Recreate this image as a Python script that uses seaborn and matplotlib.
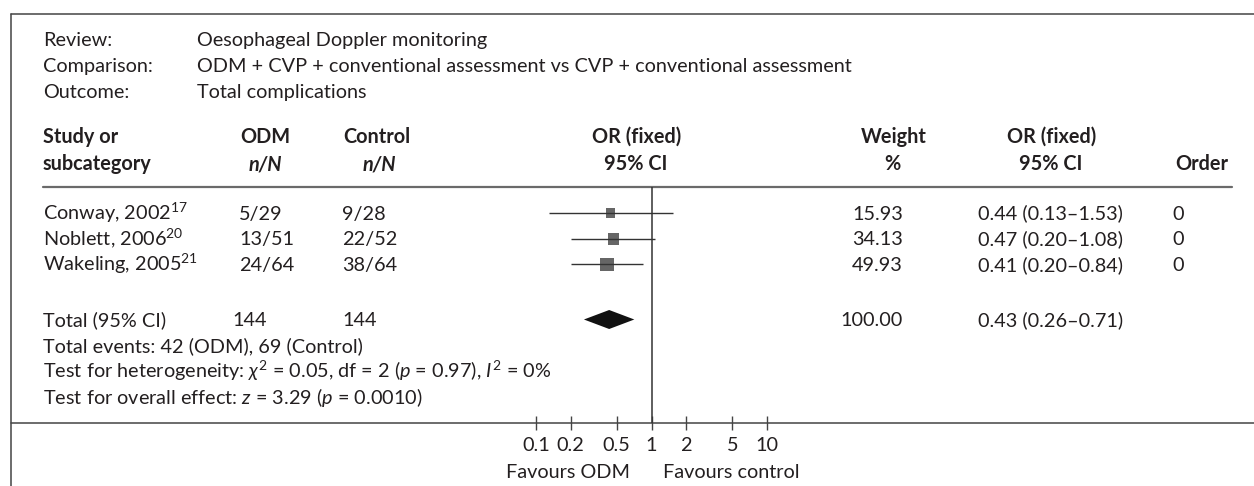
import numpy as np
import pandas as pd
import matplotlib
matplotlib.use('Agg')
import matplotlib.pyplot as plt
from matplotlib.ticker import NullLocator
import seaborn as sns

# Data
studies = ['Conway, 2002', 'Noblett, 2006', 'Wakeling, 2005']
refs = ['17', '20', '21']
odm_nN = ['5/29', '13/51', '24/64']
ctl_nN = ['9/28', '22/52', '38/64']
or_est = [0.44, 0.47, 0.41]
or_lo = [0.13, 0.20, 0.20]
or_hi = [1.53, 1.08, 0.84]
weights = [15.93, 34.13, 49.93]
order = ['0', '0', '0']

total_n_odm, total_n_ctl = 144, 144
total_weight = 100.00
total_est, total_lo, total_hi = 0.43, 0.26, 0.71
events_odm, events_ctl = 42, 69
chi2, df_het, p_het, i2 = 0.05, 2, 0.97, 0
z_val, p_z = 3.29, 0.0010

tick_vals = [0.1, 0.2, 0.5, 1, 2, 5, 10]
tick_labels = ['0.1', '0.2', '0.5', '1', '2', '5', '10']

# Style
W, H = 1254, 486
INK = '#231f20'
EDGE = '#444444'
LINE = '#333333'
FS = 14.3

sns.set_theme(style='white')
plt.rcParams['font.family'] = ['Lato', 'DejaVu Sans']
plt.rcParams['mathtext.fontset'] = 'custom'
plt.rcParams['mathtext.rm'] = 'Lato'
plt.rcParams['mathtext.it'] = 'Lato:italic'
plt.rcParams['mathtext.bf'] = 'Lato:bold'

fig = plt.figure(figsize=(W / 100, H / 100), dpi=100)
bg = fig.add_axes([0, 0, 1, 1])
bg.set_xlim(0, W)
bg.set_ylim(H, 0)
bg.axis('off')


def txt(x, y, s, ha='left', bold=False, italic=False, size=FS):
    bg.text(x, y, s, ha=ha, va='baseline', fontsize=size, color=INK,
            fontweight='bold' if bold else 'normal',
            style='italic' if italic else 'normal')


# frame and rules
bg.plot([11, 11], [14, H], color=EDGE, lw=1.1)
bg.plot([11, W], [14, 14], color=EDGE, lw=1.1)
bg.plot([43, 1232], [187, 187], color='#6a6a6a', lw=1.6)
bg.plot([11, W], [423, 423], color=EDGE, lw=1.1)

# header block
txt(43, 46, 'Review:')
txt(197, 46, 'Oesophageal Doppler monitoring')
txt(43, 72, 'Comparison:')
txt(197, 72, 'ODM + CVP + conventional assessment vs CVP + conventional assessment')
txt(43, 98, 'Outcome:')
txt(197, 98, 'Total complications')

# column headers
txt(43, 143, 'Study or', bold=True)
txt(43, 170, 'subcategory', bold=True)
txt(265, 143, 'ODM', ha='center', bold=True)
txt(265, 170, 'n/N', ha='center', bold=True, italic=True)
txt(377, 143, 'Control', ha='center', bold=True)
txt(379, 170, 'n/N', ha='center', bold=True, italic=True)
txt(637, 143, 'OR (fixed)', ha='center', bold=True)
txt(636, 170, '95% CI', ha='center', bold=True)
txt(894, 143, 'Weight', ha='center', bold=True)
txt(892, 170, '%', ha='center', bold=True)
txt(1052, 143, 'OR (fixed)', ha='center', bold=True)
txt(1051, 170, '95% CI', ha='center', bold=True)
txt(1175, 170, 'Order', bold=True)

# study rows
row0, step = 213, 25.7
rows_y = [row0 + step * i for i in range(len(studies))]
total_y = 319.5
for i, y in enumerate(rows_y):
    b = y + 6.5
    txt(43, b, f'{studies[i]}$^{{{refs[i]}}}$')
    txt(239, b, odm_nN[i])
    txt(342, b, ctl_nN[i])
    txt(903, b, f'{weights[i]:.2f}', ha='right')
    txt(978, b, f'{or_est[i]:.2f} ({or_lo[i]:.2f}\u2013{or_hi[i]:.2f})')
    txt(1172, b, order[i])

b = total_y + 6.5
txt(43, b, 'Total (95% CI)')
txt(232, b, str(total_n_odm))
txt(342, b, str(total_n_ctl))
txt(903, b, f'{total_weight:.2f}', ha='right')
txt(978, b, f'{total_est:.2f} ({total_lo:.2f}\u2013{total_hi:.2f})')

txt(43, 352, f'Total events: {events_odm} (ODM), {events_ctl} (Control)')
txt(43, 378, f'Test for heterogeneity: $\\chi^2$ = {chi2:.2f}, df = {df_het} ($p$ = {p_het:.2f}), $I^2$ = {i2}%')
txt(43, 404, f'Test for overall effect: $z$ = {z_val:.2f} ($p$ = {p_z:.4f})')

txt(630, 478, 'Favours ODM', ha='right')
txt(663, 478, 'Favours control')

# forest plot
forest = pd.DataFrame({'study': studies, 'est': or_est, 'lo': or_lo,
                       'hi': or_hi, 'weight': weights, 'row': rows_y})

ax = fig.add_axes([536 / W, 1 - 423 / H, (767 - 536) / W, (423 - 187) / H])
ax.set_xscale('log')
ax.set_xlim(0.1, 10)
ax.set_ylim(423, 187)
ax.patch.set_alpha(0)
for sp in ax.spines.values():
    sp.set_visible(False)

ax.axvline(1, color=LINE, lw=1.1)
sns.scatterplot(data=forest, x='est', y='row', size='weight', sizes=(42, 95),
                marker='s', color='#666666', edgecolor='none', legend=False,
                ax=ax, zorder=1)
ax.hlines(forest['row'], forest['lo'], forest['hi'], color=LINE, lw=1.0, zorder=2)
ax.fill([total_lo, total_est, total_hi, total_est],
        [total_y, total_y - 9.5, total_y, total_y + 9.5], color='#111111', lw=0)

ax.set_xticks(tick_vals)
ax.set_xticklabels(tick_labels)
ax.xaxis.set_minor_locator(NullLocator())
ax.set_yticks([])
ax.tick_params(axis='x', direction='inout', length=10, width=1, color=EDGE,
               pad=5, labelsize=FS, labelcolor=INK, bottom=True)
ax.set_xlabel('')
ax.set_ylabel('')

fig.savefig('out.png', dpi=100)
